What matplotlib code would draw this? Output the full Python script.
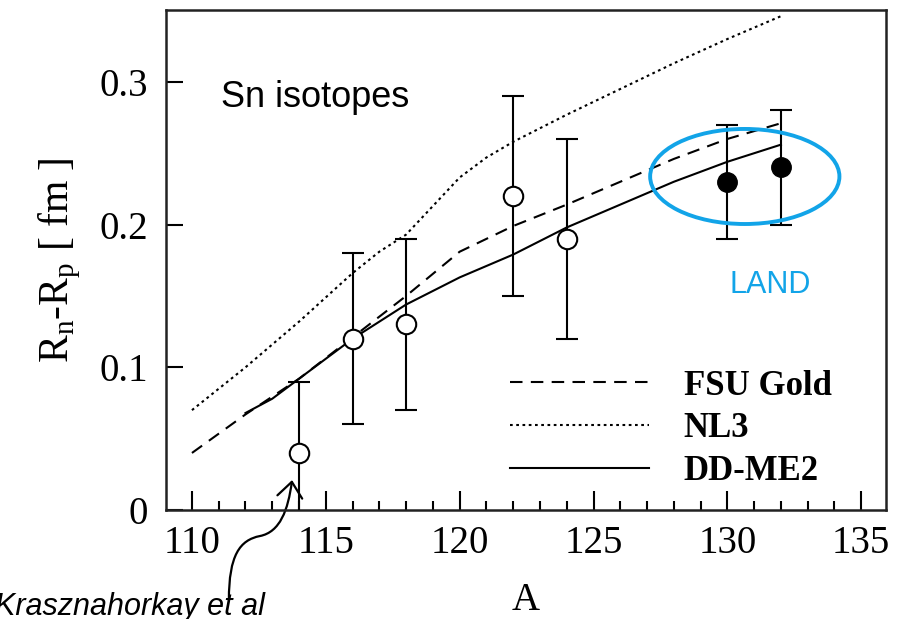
import matplotlib
matplotlib.use('Agg')
import matplotlib.pyplot as plt
from matplotlib.patches import Ellipse, FancyArrowPatch
from matplotlib.path import Path
from matplotlib.ticker import MultipleLocator, FuncFormatter

plt.rcParams['font.family'] = ['Liberation Serif', 'DejaVu Serif']
plt.rcParams['mathtext.fontset'] = 'custom'
plt.rcParams['mathtext.rm'] = 'Liberation Serif'

# theory curves (A, Rn-Rp)
a_fsu = [110, 112, 114, 116, 118, 120, 122, 124, 126, 128, 130, 132]
fsu_gold = [0.040, 0.067, 0.092, 0.121, 0.150, 0.181, 0.199, 0.214, 0.230, 0.246, 0.260, 0.271]

a_nl3 = [110, 112, 114, 116, 117, 118, 119, 120, 121, 122, 124, 126, 128, 130, 132]
nl3 = [0.070, 0.100, 0.132, 0.166, 0.181, 0.193, 0.213, 0.233, 0.247, 0.258, 0.277, 0.295, 0.313, 0.330, 0.346]

a_dd = [112, 113, 114, 116, 118, 120, 122, 124, 126, 128, 130, 132]
dd_me2 = [0.068, 0.078, 0.092, 0.120, 0.144, 0.163, 0.179, 0.198, 0.214, 0.230, 0.244, 0.256]

# measurements
a_open = [114, 116, 118, 122, 124]
r_open = [0.04, 0.12, 0.13, 0.22, 0.19]
err_open = [0.05, 0.06, 0.06, 0.07, 0.07]

a_land = [130, 132]
r_land = [0.23, 0.24]
err_land = [0.04, 0.04]

fig = plt.figure(figsize=(9.07, 6.19), dpi=100)
ax = fig.add_axes([0.183, 0.176, 0.794, 0.808])

ax.plot(a_fsu, fsu_gold, color='black', lw=1.5, dashes=(6, 4), label='FSU Gold')
ax.plot(a_nl3, nl3, color='black', lw=1.5, dashes=(1.3, 1.7), label='NL3')
ax.plot(a_dd, dd_me2, color='black', lw=1.5, label='DD-ME2')

ax.errorbar(a_open, r_open, yerr=err_open, fmt='o', ms=14, mfc='white', mec='black',
            mew=1.5, ecolor='black', elinewidth=1.5, capsize=8, capthick=1.5, zorder=5)
ax.errorbar(a_land, r_land, yerr=err_land, fmt='o', ms=14, mfc='black', mec='black',
            ecolor='black', elinewidth=1.5, capsize=8, capthick=1.5, zorder=5)

ax.set_xlim(109.03, 135.93)
ax.set_ylim(0, 0.3504)
ax.xaxis.set_major_locator(MultipleLocator(5))
ax.xaxis.set_minor_locator(MultipleLocator(1))
ax.yaxis.set_major_locator(MultipleLocator(0.1))
ax.yaxis.set_major_formatter(FuncFormatter(lambda v, p: '0' if abs(v) < 1e-9 else '%.1f' % v))

ax.tick_params(axis='both', which='both', direction='in', top=False, right=False,
               width=1.5, labelsize=28)
ax.tick_params(axis='x', which='major', length=13.5, pad=11)
ax.tick_params(axis='x', which='minor', length=6.5)
ax.tick_params(axis='y', which='major', length=12, pad=13)
for s in ax.spines.values():
    s.set_linewidth(1.8)
    s.set_color('#222222')

ax.set_xlabel('A', fontsize=28, labelpad=14)
ax.set_ylabel(r'R$_\mathrm{n}$-R$_\mathrm{p}$ [ fm ]', fontsize=30, labelpad=12)

leg = ax.legend(loc='upper left', bbox_to_anchor=(0.478, 0.281), frameon=False,
                prop={'family': 'Liberation Serif', 'weight': 'bold', 'size': 25},
                handlelength=4.0, handletextpad=1.0, labelspacing=0.28,
                borderpad=0, borderaxespad=0)

ax.text(111.1, 0.289, 'Sn isotopes', family='Liberation Sans', fontsize=26, va='center')

blue = '#12A4E8'
ax.add_patch(Ellipse((130.65, 0.2337), 7.07, 0.0666, fill=False, ec=blue, lw=2.8, zorder=6))
ax.text(131.6, 0.158, 'LAND', family='Liberation Sans', fontsize=22, color=blue,
        ha='center', va='center')

# curved arrow pointing at the A=114 point
verts = [(111.38, -0.063), (111.38, -0.0315), (111.79, -0.021), (112.54, -0.0182),
         (113.29, -0.0154), (113.59, 0.0), (113.74, 0.021)]
codes = [Path.MOVETO, Path.CURVE4, Path.CURVE4, Path.CURVE4,
         Path.CURVE4, Path.CURVE4, Path.CURVE4]
arrow = FancyArrowPatch(path=Path(verts, codes), arrowstyle='->,head_length=0.55,head_width=0.45',
                        mutation_scale=20, lw=1.6, color='black', transform=ax.transData,
                        clip_on=False)
ax.add_patch(arrow)
fig.text(-0.006, 0.044, 'Krasznahorkay et al', family='Liberation Sans', style='italic',
         fontsize=22, va='top', ha='left')

fig.savefig('out.png', dpi=100)
